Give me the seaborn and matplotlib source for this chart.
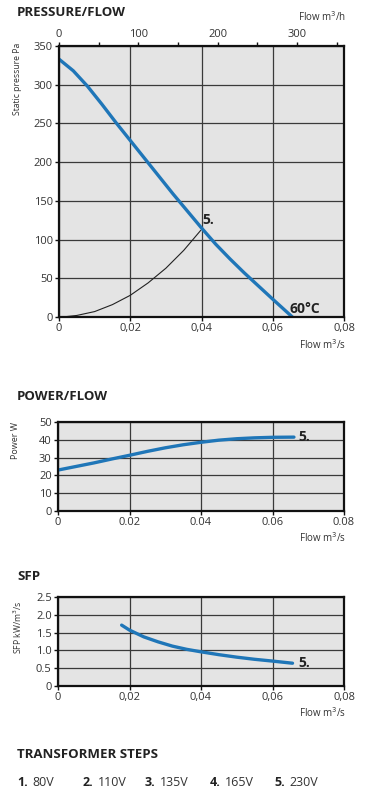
import matplotlib
matplotlib.use("Agg")
import matplotlib.pyplot as plt
import seaborn as sns
from matplotlib.ticker import FixedLocator

# ---------------- data ----------------
press_flow = [0.0, 0.004, 0.008, 0.012, 0.016, 0.020, 0.024, 0.028, 0.032, 0.036,
              0.040, 0.044, 0.048, 0.052, 0.056, 0.060, 0.0655]
press_pa = [333, 318, 298, 275, 251, 228, 205, 182, 159, 137,
            115, 94, 75, 57, 40, 23, 0]

sys_flow = [0.001, 0.005, 0.010, 0.015, 0.020, 0.025, 0.030, 0.035, 0.0398]
sys_pa = [0, 2, 7, 16, 28, 44, 63, 86, 112]

power_flow = [0.0, 0.005, 0.010, 0.015, 0.020, 0.025, 0.030, 0.035, 0.040,
              0.045, 0.050, 0.055, 0.060, 0.066]
power_w = [23, 25, 27, 29.2, 31.3, 33.5, 35.5, 37.2, 38.6, 39.8, 40.6, 41.1, 41.4, 41.5]

sfp_flow = [0.0178, 0.020, 0.024, 0.028, 0.032, 0.036, 0.040, 0.045, 0.050,
            0.055, 0.060, 0.0656]
sfp_val = [1.71, 1.57, 1.38, 1.24, 1.12, 1.03, 0.96, 0.88, 0.81, 0.75, 0.70, 0.64]

x_ticks = [0, 0.02, 0.04, 0.06, 0.08]
x_labels_comma = ["0", "0,02", "0,04", "0,06", "0,08"]
x_labels_dot = ["0", "0.02", "0.04", "0.06", "0.08"]
press_ticks = [0, 50, 100, 150, 200, 250, 300, 350]
power_ticks = [0, 10, 20, 30, 40, 50]
sfp_ticks = [0, 0.5, 1.0, 1.5, 2.0, 2.5]
sfp_labels = ["0", "0.5", "1.0", "1.5", "2.0", "2.5"]
top_ticks = [0, 100, 200, 300]
top_minor = [50, 150, 250, 350]

steps_num = ["1.", "2.", "3.", "4.", "5."]
steps_volt = ["80V", "110V", "135V", "165V", "230V"]

# ---------------- style ----------------
sns.set_theme(style="ticks")
plt.rcParams["font.family"] = ["Open Sans", "DejaVu Sans"]

BLUE = "#1f76b8"
BG = "#e4e4e4"
GRID = "#3a3a3a"
TXT = "#333333"

W, H = 382, 797
fig = plt.figure(figsize=(W / 100, H / 100), dpi=100)
fig.patch.set_facecolor("white")


def rect(l, t, r, b):
    return [l / W, 1 - b / H, (r - l) / W, (b - t) / H]


def fy(y):
    return 1 - y / H


def fx(x):
    return x / W


def style_ax(ax, yticks, ylabels, xlabels, ymax):
    ax.set_facecolor(BG)
    ax.set_xlim(0, 0.08)
    ax.set_ylim(0, ymax)
    ax.set_xticks(x_ticks)
    ax.set_xticklabels(xlabels)
    ax.set_yticks(yticks)
    ax.set_yticklabels(ylabels)
    ax.grid(True, color=GRID, linewidth=0.9)
    ax.set_axisbelow(True)
    for s in ax.spines.values():
        s.set_visible(True)
        s.set_color("#111111")
        s.set_linewidth(1.6)
    ax.tick_params(axis="both", labelsize=8, colors="#111111", labelcolor=TXT,
                   length=3, width=1, pad=1.5)
    ax.set_xlabel("")
    ax.set_ylabel("")


# ---------------- PRESSURE/FLOW ----------------
ax1 = fig.add_axes(rect(59, 46, 344, 317))
sns.lineplot(x=sys_flow, y=sys_pa, ax=ax1, color="#222222", linewidth=0.8)
sns.lineplot(x=press_flow, y=press_pa, ax=ax1, color=BLUE, linewidth=2.4)
style_ax(ax1, press_ticks, [str(v) for v in press_ticks], x_labels_comma, 350)
ax1.text(0.0403, 116, "5.", fontsize=10, fontweight="bold", color="#222222",
         ha="left", va="bottom")
ax1.text(0.0646, 1, "60°C", fontsize=10, fontweight="bold", color="#222222",
         ha="left", va="bottom")

top = ax1.twiny()
top.set_xlim(0, 359)
top.xaxis.set_major_locator(FixedLocator(top_ticks))
top.xaxis.set_minor_locator(FixedLocator(top_minor))
top.tick_params(axis="x", which="both", labelsize=8, labelcolor=TXT, colors="#111111",
                length=3, width=1, pad=1.5)
for s in top.spines.values():
    s.set_visible(False)
top.grid(False)

fig.text(fx(17), fy(12), "PRESSURE/FLOW", fontsize=9.5, fontweight="bold",
         color="#222222", ha="left", va="center")
fig.text(fx(346), fy(17), "Flow m$^3$/h", fontsize=7, color=TXT, ha="right", va="center")
fig.text(fx(18), fy(79), "Static pressure Pa", fontsize=6.2, color=TXT, rotation=90,
         ha="center", va="center")
fig.text(fx(346), fy(345), "Flow m$^3$/s", fontsize=7, color=TXT, ha="right", va="center")

# ---------------- POWER/FLOW ----------------
ax2 = fig.add_axes(rect(58, 422, 344, 511))
sns.lineplot(x=power_flow, y=power_w, ax=ax2, color=BLUE, linewidth=2.4)
style_ax(ax2, power_ticks, [str(v) for v in power_ticks], x_labels_dot, 50)
ax2.text(0.0672, 41.5, "5.", fontsize=10, fontweight="bold", color="#222222",
         ha="left", va="center")
fig.text(fx(17), fy(396), "POWER/FLOW", fontsize=9.5, fontweight="bold",
         color="#222222", ha="left", va="center")
fig.text(fx(15), fy(441), "Power W", fontsize=6.5, color=TXT, rotation=90,
         ha="center", va="center")
fig.text(fx(346), fy(538), "Flow m$^3$/s", fontsize=7, color=TXT, ha="right", va="center")

# ---------------- SFP ----------------
ax3 = fig.add_axes(rect(58, 597, 344, 686))
sns.lineplot(x=sfp_flow, y=sfp_val, ax=ax3, color=BLUE, linewidth=2.4)
style_ax(ax3, sfp_ticks, sfp_labels, x_labels_comma, 2.5)
ax3.text(0.0672, 0.65, "5.", fontsize=10, fontweight="bold", color="#222222",
         ha="left", va="center")
fig.text(fx(17), fy(576), "SFP", fontsize=9.5, fontweight="bold",
         color="#222222", ha="left", va="center")
fig.text(fx(18), fy(627), "SFP kW/m$^3$/s", fontsize=6.2, color=TXT, rotation=90,
         ha="center", va="center")
fig.text(fx(346), fy(713), "Flow m$^3$/s", fontsize=7, color=TXT, ha="right", va="center")

# ---------------- TRANSFORMER STEPS ----------------
fig.text(fx(17), fy(755), "TRANSFORMER STEPS", fontsize=9.5, fontweight="bold",
         color="#222222", ha="left", va="center")
step_x = [17, 83, 145, 210, 274]
for xpos, n, v in zip(step_x, steps_num, steps_volt):
    fig.text(fx(xpos), fy(782), n, fontsize=9, fontweight="bold",
             color="#222222", ha="left", va="center")
    fig.text(fx(xpos + 15), fy(782), v, fontsize=9, color=TXT, ha="left", va="center")

fig.savefig("out.png", dpi=100, facecolor="white")
